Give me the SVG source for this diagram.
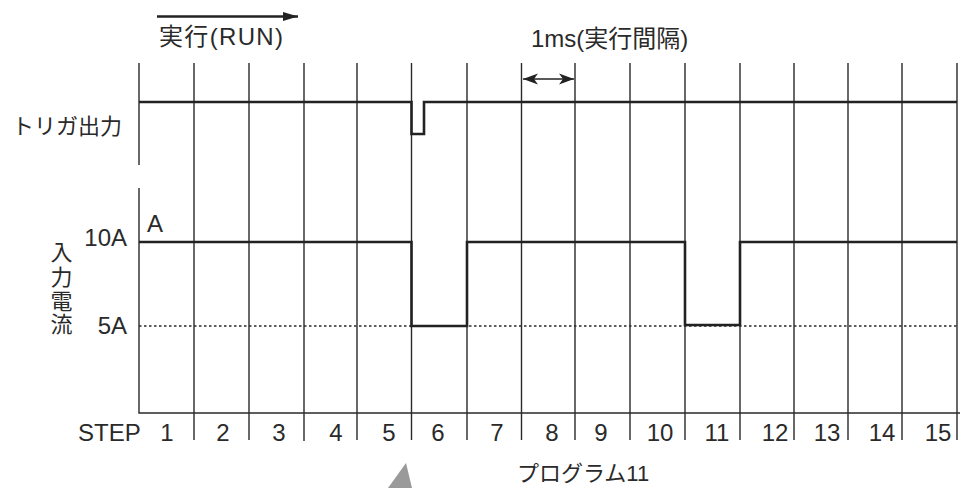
<svg xmlns="http://www.w3.org/2000/svg" width="963" height="488" viewBox="0 0 963 488">
<style>
text{font-family:"Liberation Sans","Noto Sans CJK JP",sans-serif;fill:#2a2a2a}
.lat{font-size:24px}
.jp{font-size:22px}
.grid{stroke:#2a2a2a;stroke-width:1.4;fill:none}
.sig{stroke:#222;stroke-width:2.6;fill:none;stroke-linejoin:miter}
.dot{stroke:#2a2a2a;stroke-width:1.4;stroke-dasharray:2.5 2.5;fill:none}
.num{font-size:24px;text-anchor:middle}
</style>
<defs>
<marker id="ah" markerWidth="16" markerHeight="12" refX="15" refY="6" orient="auto-start-reverse" markerUnits="userSpaceOnUse">
<path d="M0,0.5 L15,6 L0,11.5 L4,6 Z" fill="#222"/>
</marker>
<marker id="run" markerWidth="16" markerHeight="10" refX="15" refY="5" orient="auto" markerUnits="userSpaceOnUse">
<path d="M0,0.5 L15,5 L0,9.5 Z" fill="#222"/>
</marker>
</defs>

<g id="connectors">
<g id="grid">
<path class="grid" d="M139,63 V165 M139,188 V413 H960"/>
<path class="grid" d="M194,63 V440 M249,63 V440 M304,63 V441 M357,63 V440 M411.5,63 V440 M467,63 V440 M521.5,63 V440 M575,63 V440 M630,63 V440 M685,63 V440 M740,63 V440 M794,63 V440 M848,63 V440 M902,63 V440 M957,63 V440"/>
</g>
<path id="level5" class="dot" d="M139,326 H957"/>
<path id="trigger-signal" class="sig" d="M139,102 H411.5 V134 H424 V102 H957"/>
<path id="current-signal" class="sig" d="M139,242 H411.5 V326 H467 V242 H685 V325 H740 V242 H957"/>
<path id="run-arrow" d="M157,16.5 H298" stroke="#222" stroke-width="2.4" fill="none" marker-end="url(#run)"/>
<path id="interval-arrow" d="M523,79 H574" stroke="#222" stroke-width="1.6" fill="none" marker-start="url(#ah)" marker-end="url(#ah)"/>
<polygon id="pointer" points="406,463 388,488 412,488" fill="#9a9a9a"/>
</g>

<g id="label-run"><text class="lat" x="159" y="45" textLength="124">実行(RUN)</text></g>
<g id="label-interval"><text class="lat" x="531" y="47">1ms(実行間隔)</text></g>
<g id="label-trigger"><text class="jp" x="12" y="134" font-size="21">トリガ出力</text></g>
<g id="label-current">
<text class="jp" x="61.5" y="260" text-anchor="middle" font-size="23">入</text>
<text class="jp" x="61.5" y="285" text-anchor="middle" font-size="23">力</text>
<text class="jp" x="61.5" y="309" text-anchor="middle" font-size="23">電</text>
<text class="jp" x="61.5" y="332" text-anchor="middle" font-size="23">流</text>
</g>
<g id="label-10A"><text class="lat" x="127" y="246" text-anchor="end">10A</text></g>
<g id="label-5A"><text class="lat" x="127" y="334" text-anchor="end">5A</text></g>
<g id="label-A"><text class="lat" x="147" y="232">A</text></g>
<g id="steps">
<text class="lat" x="78" y="441">STEP</text>
<text class="num" x="167" y="441">1</text>
<text class="num" x="223" y="441">2</text>
<text class="num" x="279" y="441">3</text>
<text class="num" x="336" y="441">4</text>
<text class="num" x="389" y="441">5</text>
<text class="num" x="438" y="441">6</text>
<text class="num" x="497" y="441">7</text>
<text class="num" x="552" y="441">8</text>
<text class="num" x="601" y="441">9</text>
<text class="num" x="660" y="441">10</text>
<text class="num" x="717" y="441">11</text>
<text class="num" x="775" y="441">12</text>
<text class="num" x="827" y="441">13</text>
<text class="num" x="882" y="441">14</text>
<text class="num" x="938" y="441">15</text>
</g>
<g id="label-program"><text class="jp" x="517" y="481">プログラム11</text></g>
</svg>
